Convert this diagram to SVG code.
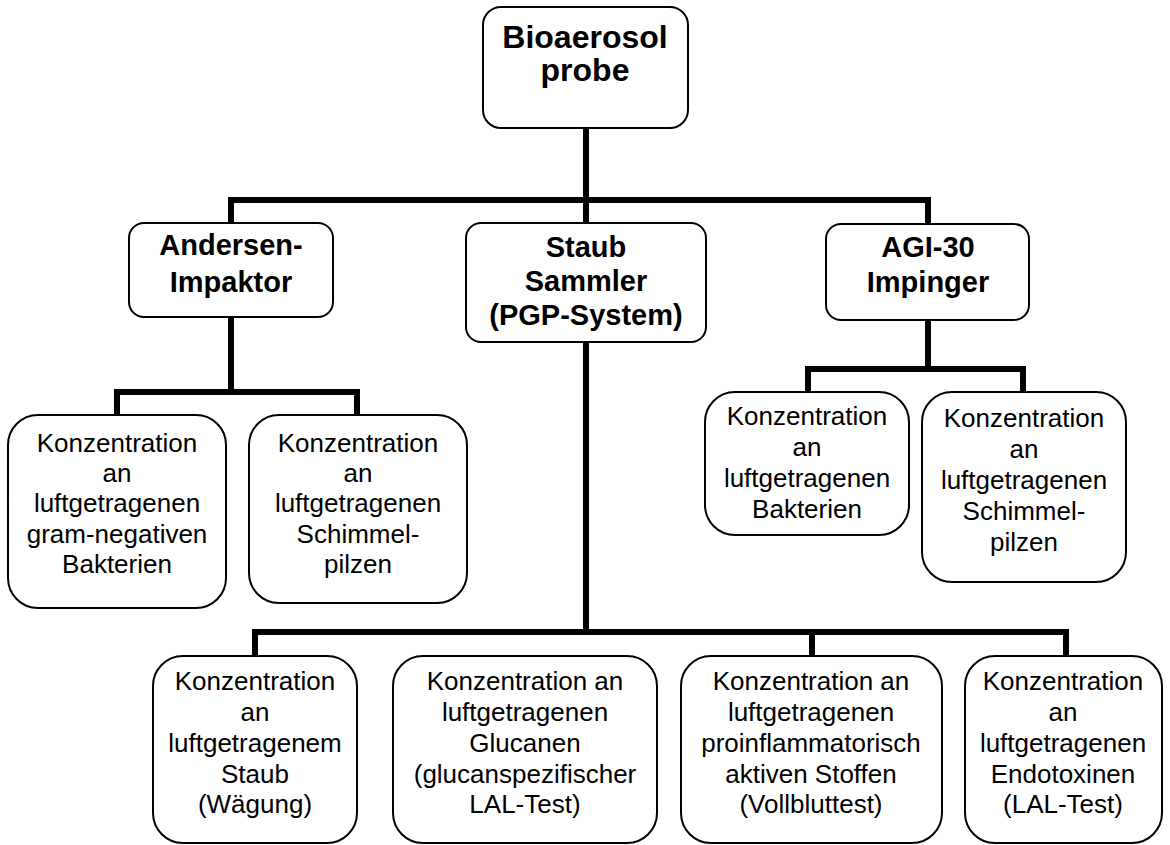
<svg xmlns="http://www.w3.org/2000/svg" width="1170" height="845" viewBox="0 0 1170 845">
<style>
.box{fill:#fff;stroke:#000;stroke-width:2}
.t{font-family:"Liberation Sans",Arial,sans-serif;font-size:26px;text-anchor:middle;fill:#000}
.b{font-family:"Liberation Sans",Arial,sans-serif;font-size:29px;font-weight:bold;text-anchor:middle;fill:#000}
.r{font-family:"Liberation Sans",Arial,sans-serif;font-size:32px;font-weight:bold;text-anchor:middle;fill:#000}
.c{fill:none;stroke:#000;stroke-width:6;stroke-linecap:square;stroke-linejoin:miter}
</style>
<rect width="1170" height="845" fill="#fff"/>
<g id="connectors">
<path class="c" d="M586 128 V200 M231 223 V200 H928 V224 M586 200 V223"/>
<path class="c" d="M231 317 V392 M117 415 V392 H357 V415"/>
<path class="c" d="M928 320 V369 M808 392 V369 H1023 V392"/>
<path class="c" d="M586 342 V632 M255 656 V632 H1066 V656 M812 632 V656"/>
</g>
<g id="root">
<rect class="box" x="483" y="7" width="205" height="121" rx="18"/>
<text class="r" x="585" y="48">Bioaerosol</text>
<text class="r" x="585" y="81">probe</text>
</g>
<g id="andersen">
<rect class="box" x="129" y="223" width="204" height="94" rx="15"/>
<text class="b" x="231" y="255">Andersen-</text>
<text class="b" x="231" y="292">Impaktor</text>
</g>
<g id="staub">
<rect class="box" x="466" y="223" width="240" height="119" rx="15"/>
<text class="b" x="586" y="257">Staub</text>
<text class="b" x="586" y="291">Sammler</text>
<text class="b" x="586" y="325">(PGP-System)</text>
</g>
<g id="agi">
<rect class="box" x="826" y="224" width="203" height="96" rx="15"/>
<text class="b" x="928" y="257">AGI-30</text>
<text class="b" x="928" y="292">Impinger</text>
</g>
<g id="a1">
<rect class="box" x="8" y="415" width="218" height="193" rx="30"/>
<text class="t" x="117" y="452">Konzentration</text>
<text class="t" x="117" y="482">an</text>
<text class="t" x="117" y="512">luftgetragenen</text>
<text class="t" x="117" y="543">gram-negativen</text>
<text class="t" x="117" y="573">Bakterien</text>
</g>
<g id="a2">
<rect class="box" x="249" y="415" width="218" height="188" rx="30"/>
<text class="t" x="358" y="452">Konzentration</text>
<text class="t" x="358" y="482">an</text>
<text class="t" x="358" y="512">luftgetragenen</text>
<text class="t" x="358" y="543">Schimmel-</text>
<text class="t" x="358" y="573">pilzen</text>
</g>
<g id="g1">
<rect class="box" x="705" y="392" width="204" height="143" rx="30"/>
<text class="t" x="807" y="425">Konzentration</text>
<text class="t" x="807" y="456">an</text>
<text class="t" x="807" y="487">luftgetragenen</text>
<text class="t" x="807" y="518">Bakterien</text>
</g>
<g id="g2">
<rect class="box" x="922" y="392" width="204" height="190" rx="30"/>
<text class="t" x="1024" y="427">Konzentration</text>
<text class="t" x="1024" y="458">an</text>
<text class="t" x="1024" y="489">luftgetragenen</text>
<text class="t" x="1024" y="520">Schimmel-</text>
<text class="t" x="1024" y="551">pilzen</text>
</g>
<g id="s1">
<rect class="box" x="153" y="656" width="204" height="187" rx="30"/>
<text class="t" x="255" y="690">Konzentration</text>
<text class="t" x="255" y="721">an</text>
<text class="t" x="255" y="752">luftgetragenem</text>
<text class="t" x="255" y="783">Staub</text>
<text class="t" x="255" y="813">(Wägung)</text>
</g>
<g id="s2">
<rect class="box" x="393" y="656" width="264" height="187" rx="30"/>
<text class="t" x="525" y="690">Konzentration an</text>
<text class="t" x="525" y="721">luftgetragenen</text>
<text class="t" x="525" y="752">Glucanen</text>
<text class="t" x="525" y="783">(glucanspezifischer</text>
<text class="t" x="525" y="813">LAL-Test)</text>
</g>
<g id="s3">
<rect class="box" x="681" y="656" width="261" height="187" rx="30"/>
<text class="t" x="811" y="690">Konzentration an</text>
<text class="t" x="811" y="721">luftgetragenen</text>
<text class="t" x="811" y="752">proinflammatorisch</text>
<text class="t" x="811" y="783">aktiven Stoffen</text>
<text class="t" x="811" y="813">(Vollbluttest)</text>
</g>
<g id="s4">
<rect class="box" x="965" y="656" width="197" height="187" rx="30"/>
<text class="t" x="1063" y="690">Konzentration</text>
<text class="t" x="1063" y="721">an</text>
<text class="t" x="1063" y="752">luftgetragenen</text>
<text class="t" x="1063" y="783">Endotoxinen</text>
<text class="t" x="1063" y="813">(LAL-Test)</text>
</g>
</svg>
